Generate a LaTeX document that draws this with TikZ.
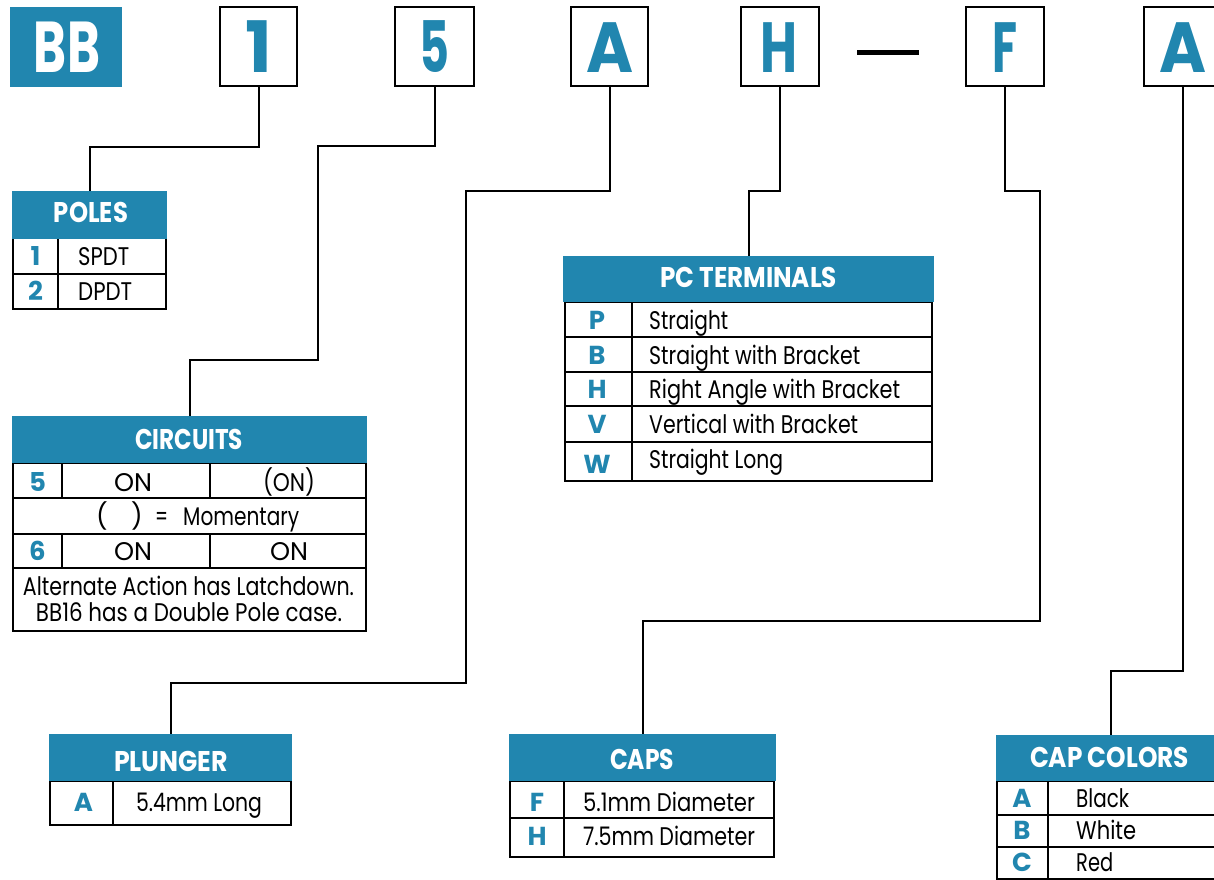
\documentclass[tikz,border=0pt]{standalone}
\usepackage{fontspec}
\setmainfont{Poppins}
\usepackage{graphicx}
\definecolor{tealc}{HTML}{2186AF}
\newcommand\fw[2]{\resizebox{#1pt}{\height}{#2}}
\begin{document}
\begin{tikzpicture}[x=1pt,y=-1pt,
  codebox/.style={rectangle,draw=black,line width=2.6pt,inner sep=0pt},
  bigtxt/.style={text=tealc,inner sep=0pt,anchor=base,font=\fontsize{71}{71}\selectfont\bfseries},
  hdr/.style={rectangle,fill=tealc,inner sep=0pt},
  hdrtxt/.style={text=white,inner sep=0pt,anchor=base,font=\fontsize{28.5}{28.5}\selectfont\bfseries},
  keytxt/.style={text=tealc,inner sep=0pt,anchor=base,font=\fontsize{26}{26}\selectfont\bfseries},
  bodytxt/.style={inner sep=0pt,anchor=base,font=\fontsize{25.5}{25.5}\selectfont},
  bodyl/.style={bodytxt,anchor=base west},
  outerln/.style={line width=2.3pt},
  innerln/.style={line width=1.3pt},
  conn/.style={line width=2pt},
]
\useasboundingbox (0,0) rectangle (1214,879);
\clip (0,0) rectangle (1214,879);

% ---------- code boxes ----------
\node[hdr,minimum width=112pt,minimum height=80pt] (bb) at (66,47) {};
\node[text=white,inner sep=0pt,anchor=base,font=\fontsize{72}{72}\selectfont\bfseries] (bbt) at (67,72) {\fw{66}{BB}};
\node[codebox,minimum width=77pt,minimum height=79pt] (b1) at (258.5,46.5) {};
\node[bigtxt] (b1t) at (258.5,72) {1};
\node[codebox,minimum width=79pt,minimum height=79pt] (b5) at (434.5,46.5) {};
\node[bigtxt] (b5t) at (434.5,72) {\fw{30}{5}};
\node[codebox,minimum width=77pt,minimum height=79pt] (bA) at (609.5,46.5) {};
\node[bigtxt] (bAt) at (609.5,72) {\fw{47}{A}};
\node[codebox,minimum width=78pt,minimum height=79pt] (bH) at (780,46.5) {};
\node[bigtxt] (bHt) at (779,72) {\fw{37}{H}};
\draw[line width=5.5pt] (857,52.5) -- (919,52.5);
\node[codebox,minimum width=78pt,minimum height=79pt] (bF) at (1005,46.5) {};
\node[bigtxt] (bFt) at (1005,72) {\fw{25}{F}};
\node[codebox,minimum width=78pt,minimum height=79pt] (bA2) at (1183,46.5) {};
\node[bigtxt] (bA2t) at (1183,72) {\fw{47}{A}};

% ---------- POLES ----------
\draw[outerln] (13,238) rectangle (166,309);
\draw[innerln] (13,274) -- (166,274) (58,238) -- (58,309);
\node[hdr,minimum width=155pt,minimum height=48pt] (polesH) at (89.5,215) {};
\node[hdrtxt] (polesT) at (91,222) {\fw{74}{POLES}};
\node[keytxt] (p1k) at (35.5,265) {1};
\node[bodyl] (p1t) at (78,265) {\fw{51}{SPDT}};
\node[keytxt] (p2k) at (35.5,300) {2};
\node[bodyl] (p2t) at (78,300) {\fw{54}{DPDT}};

% ---------- CIRCUITS ----------
\draw[outerln] (13,463) rectangle (366,631);
\draw[innerln] (13,498) -- (366,498) (13,534) -- (366,534) (13,568) -- (366,568)
  (62,463) -- (62,498) (62,534) -- (62,568) (210,463) -- (210,498) (210,534) -- (210,568);
\node[hdr,minimum width=355pt,minimum height=47pt] (circH) at (189.5,439.5) {};
\node[hdrtxt] (circT) at (189,449) {\fw{108}{CIRCUITS}};
\node[keytxt] (c5k) at (37.5,491) {5};
\node[bodytxt] (c5a) at (133,491) {\fw{38}{ON}};
\node[bodytxt] (c5b) at (289,491) {\fw{52}{(ON)}};
\node[bodyl] (cpa) at (96,525) {(};
\node[bodyl] (cpb) at (131,525) {)};
\node[bodyl] (cpc) at (155,525) {\fw{13}{=}};
\node[bodyl] (cpd) at (183,525) {\fw{116}{Momentary}};
\node[keytxt] (c6k) at (37.5,560) {6};
\node[bodytxt] (c6a) at (133,560) {\fw{38}{ON}};
\node[bodytxt] (c6b) at (289,560) {\fw{38}{ON}};
\node[bodytxt] (cn1) at (188.5,595) {\fw{331}{Alternate Action has Latchdown.}};
\node[bodytxt] (cn2) at (189,621) {\fw{306}{BB16 has a Double Pole case.}};

% ---------- PC TERMINALS ----------
\draw[outerln] (565,302) rectangle (932,481);
\draw[innerln] (565,337) -- (932,337) (565,372) -- (932,372) (565,406) -- (932,406)
  (565,442) -- (932,442) (632,302) -- (632,481);
\node[hdr,minimum width=371pt,minimum height=46pt] (pcH) at (748.5,279) {};
\node[hdrtxt] (pcT) at (748.5,287) {\fw{177}{PC TERMINALS}};
\node[keytxt] (pcPk) at (597,329) {P};
\node[bodyl] (pcPt) at (649,329) {\fw{79}{Straight}};
\node[keytxt] (pcBk) at (597,364) {B};
\node[bodyl] (pcBt) at (649,364) {\fw{211}{Straight with Bracket}};
\node[keytxt] (pcHk) at (597,398) {H};
\node[bodyl] (pcHt) at (649,398) {\fw{251}{Right Angle with Bracket}};
\node[keytxt] (pcVk) at (597,433) {V};
\node[bodyl] (pcVt) at (649,433) {\fw{209}{Vertical with Bracket}};
\node[keytxt] (pcWk) at (597,473) {W};
\node[bodyl] (pcWt) at (649,468) {\fw{134}{Straight Long}};

% ---------- PLUNGER ----------
\draw[outerln] (50,781) rectangle (291,825);
\draw[innerln] (113,781) -- (113,825);
\node[hdr,minimum width=243pt,minimum height=47pt] (plH) at (170.5,757.5) {};
\node[hdrtxt] (plT) at (171,771) {\fw{114}{PLUNGER}};
\node[keytxt] (plAk) at (83.5,811) {A};
\node[bodytxt] (plAt) at (199,811) {\fw{126}{5.4mm Long}};

% ---------- CAPS ----------
\draw[outerln] (510,781) rectangle (774,857);
\draw[innerln] (510,818) -- (774,818) (564,781) -- (564,857);
\node[hdr,minimum width=267pt,minimum height=47pt] (capsH) at (642.5,757.5) {};
\node[hdrtxt] (capsT) at (642,769) {\fw{64}{CAPS}};
\node[keytxt] (cFk) at (537,811) {F};
\node[bodytxt] (cFt) at (669,811) {\fw{172}{5.1mm Diameter}};
\node[keytxt] (cHk) at (537,845) {H};
\node[bodytxt] (cHt) at (669,845) {\fw{172}{7.5mm Diameter}};

% ---------- CAP COLORS ----------
\draw[outerln] (997,781) rectangle (1240,900);
\draw[innerln] (997,815) -- (1240,815) (997,847) -- (1240,847) (997,879) -- (1240,879)
  (1048,781) -- (1048,900);
\node[hdr,minimum width=230pt,minimum height=46pt] (ccH) at (1111,758) {};
\node[hdrtxt] (ccT) at (1109.5,767) {\fw{159}{CAP COLORS}};
\node[keytxt] (ccAk) at (1022,807) {A};
\node[bodyl] (ccAt) at (1076,807) {\fw{53}{Black}};
\node[keytxt] (ccBk) at (1022,839) {B};
\node[bodyl] (ccBt) at (1076,839) {\fw{60}{White}};
\node[keytxt] (ccCk) at (1022,871) {C};
\node[bodyl] (ccCt) at (1076,871) {\fw{37}{Red}};

% ---------- connectors ----------
\draw[conn] (b1.south) -- ++(0,60) -| (polesH.north);
\draw[conn] (b5.south) |- (318,146) -- (318,360) -| (circH.north);
\draw[conn] (bA.south) |- (466,191) -- (466,683) -| (plH.north);
\draw[conn] (bH.south) -- ++(0,104) -| (pcH.north);
\draw[conn] (bF.south) |- (1040,191) -- (1040,621) -| (capsH.north);
\draw[conn] (bA2.south) -- ++(0,584) -| (ccH.north);
\end{tikzpicture}
\end{document}
